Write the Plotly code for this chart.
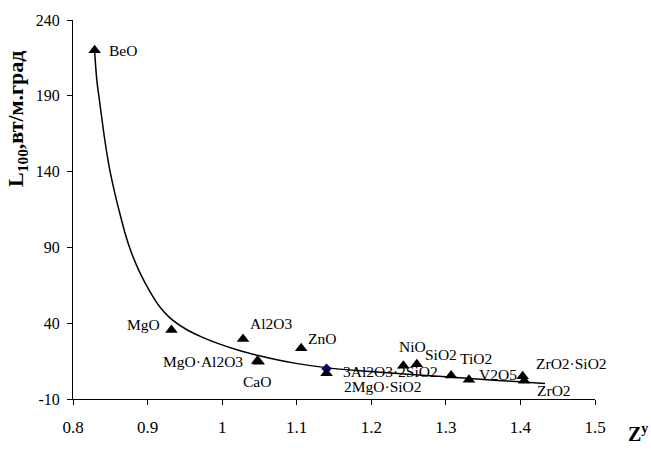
import plotly.graph_objects as go

# ---- data ----
names = ["BeO", "MgO", "Al2O3", "ZnO", "MgO·Al2O3", "CaO", "2MgO·SiO2",
         "NiO", "SiO2", "TiO2", "V2O5", "ZrO2·SiO2", "ZrO2"]
zy = [0.829, 0.932, 1.028, 1.106, 1.047, 1.049, 1.140,
      1.243, 1.261, 1.307, 1.331, 1.403, 1.405]
l100 = [220.0, 35.5, 29.5, 23.5, 15.0, 14.5, 7.0,
        12.0, 13.0, 5.5, 2.7, 5.0, 2.0]

blue_name = ["3Al2O3·2SiO2"]
blue_x = [1.140]
blue_y = [10.0]

curve_x = [0.829, 0.832, 0.836, 0.842, 0.849, 0.856, 0.863, 0.870, 0.878,
           0.890, 0.903, 0.916, 0.930, 0.950, 0.970, 0.995, 1.023, 1.050,
           1.075, 1.099, 1.139, 1.184, 1.240, 1.295, 1.360, 1.433]
curve_y = [219.0, 200.0, 185.0, 163.0, 142.0, 126.0, 112.0, 99.0, 87.0,
           73.0, 61.0, 51.0, 43.5, 36.5, 31.5, 26.5, 22.0, 18.5,
           15.7, 13.5, 10.7, 8.6, 6.6, 4.8, 2.6, 0.2]

x_ticks = [0.8, 0.9, 1.0, 1.1, 1.2, 1.3, 1.4, 1.5]
x_tick_text = ["0.8", "0.9", "1", "1.1", "1.2", "1.3", "1.4", "1.5"]
y_ticks = [-10, 40, 90, 140, 190, 240]
y_tick_text = ["-10", "40", "90", "140", "190", "240"]

# ---- label styling (pixel offsets, anchors) ----
label_style = {
    "BeO": (12, 0, "left"),
    "MgO": (-9, 6, "right"),
    "Al2O3": (5, 16, "left"),
    "ZnO": (5, 10, "left"),
    "MgO·Al2O3": (-12, 0, "right"),
    "CaO": (-2, -20, "center"),
    "2MgO·SiO2": (15, -13, "left"),
    "NiO": (-6, 19, "left"),
    "SiO2": (6, 10, "left"),
    "TiO2": (7, 17, "left"),
    "V2O5": (8, 5, "left"),
    "ZrO2·SiO2": (11, 13, "left"),
    "ZrO2": (11, -10, "left"),
    "3Al2O3·2SiO2": (14, -3, "left"),
}

FONT = "Liberation Serif"

fig = go.Figure()
fig.add_trace(go.Scatter(x=curve_x, y=curve_y, mode="lines",
                         line=dict(color="black", width=1.5, shape="spline", smoothing=0.6),
                         hoverinfo="skip", showlegend=False))
fig.add_trace(go.Scatter(x=blue_x, y=blue_y, mode="markers",
                         marker=dict(symbol="diamond", size=8, color="#000080"),
                         showlegend=False))
fig.add_trace(go.Scatter(x=zy, y=l100, mode="markers",
                         marker=dict(symbol="triangle-up", size=11, color="black"),
                         showlegend=False))

for n, x, y in list(zip(names, zy, l100)) + list(zip(blue_name, blue_x, blue_y)):
    dx, dy, anc = label_style[n]
    fig.add_annotation(x=x, y=y, xref="x", yref="y", text=n, showarrow=False,
                       xanchor=anc, yanchor="middle", xshift=dx, yshift=dy,
                       font=dict(family=FONT, size=15.5, color="black"))

# axis titles
fig.add_annotation(xref="paper", yref="paper", x=0, y=0.739, xshift=-56,
                   text="<b>L<sub>100</sub>,вт/м.град</b>", textangle=-90,
                   showarrow=False, xanchor="center", yanchor="middle",
                   font=dict(family=FONT, size=22, color="black"))
fig.add_annotation(xref="paper", yref="paper", x=1, y=0, xshift=31, yshift=-34,
                   text="<b>Z<sup>y</sup></b>", showarrow=False,
                   xanchor="left", yanchor="middle",
                   font=dict(family=FONT, size=20, color="black"))

fig.update_layout(
    width=651, height=451,
    margin=dict(l=73, r=56, t=12, b=52),
    paper_bgcolor="white", plot_bgcolor="white",
    font=dict(family=FONT, color="black"),
    xaxis=dict(range=[0.8, 1.5], tickvals=x_ticks, ticktext=x_tick_text,
               showgrid=False, zeroline=False, showline=True, linecolor="black",
               linewidth=1, ticks="outside", ticklen=5, tickcolor="black",
               tickfont=dict(family=FONT, size=17), ticklabelstandoff=8),
    yaxis=dict(range=[-10, 240], tickvals=y_ticks, ticktext=y_tick_text,
               showgrid=False, zeroline=False, showline=True, linecolor="black",
               linewidth=1, ticks="outside", ticklen=5, tickcolor="black",
               tickfont=dict(family=FONT, size=16), ticklabelstandoff=4),
)

# remove the default page margin so the figure sits at the window's corner
fig.write_html("out.html",
               config={"displayModeBar": False},
               post_script="document.body.style.margin='0';")
